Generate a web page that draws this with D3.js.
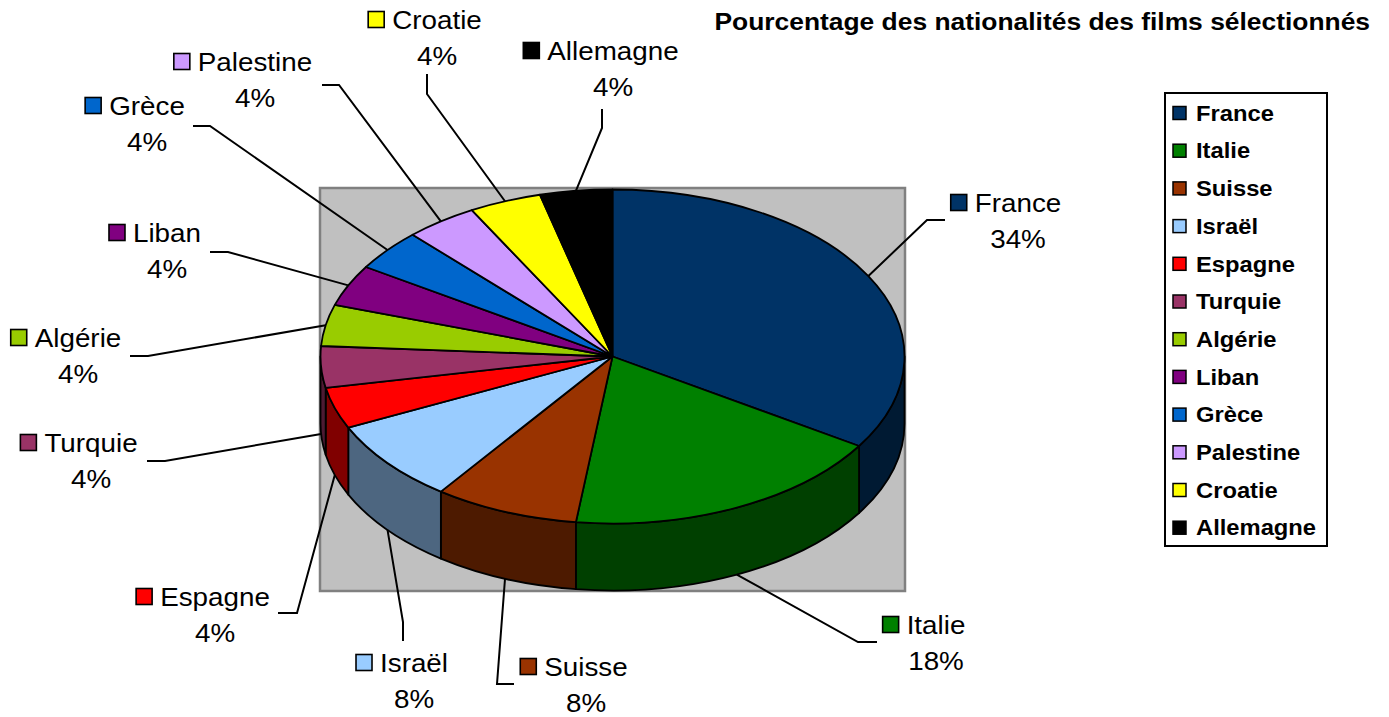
<!DOCTYPE html>
<html>
<head>
<meta charset="utf-8">
<script src="https://cdn.jsdelivr.net/npm/d3@7"></script>
<style>
  body { margin: 0; background: #fff; }
  text { font-family: "Liberation Sans", Arial, sans-serif; fill: #000; }
</style>
</head>
<body>
<svg id="chart" width="1389" height="717"></svg>
<script>
// Nationalités des films sélectionnés (pourcentages)
const countries = ["France", "Italie", "Suisse", "Israël", "Espagne", "Turquie",
                   "Algérie", "Liban", "Grèce", "Palestine", "Croatie", "Allemagne"];
const shares = [34, 18, 8, 8, 4, 4, 4, 4, 4, 4, 4, 4];
const colors = ["#003366", "#008000", "#993300", "#99CCFF", "#FF0000", "#993366",
                "#99CC00", "#800080", "#0066CC", "#CC99FF", "#FFFF00", "#000000"];
const chartTitle = "Pourcentage des nationalités des films sélectionnés";

// Data label placement: centre of the name line, then the leader's elbow and end
const labelCentres = [[1018, 203], [936, 625], [586, 667], [414, 663], [215, 597], [91, 443],
                      [78, 338], [167, 233], [147, 106], [255, 62], [437, 20], [613, 51]];
const leaderElbows = [[927, 220], [858, 642], [497, 684], [403, 622], [297, 613], [165, 461],
                      [148, 356], [228, 252], [210, 126], [339, 85], [427, 94], [602, 128]];
const leaderEnds   = [[945, 220], [877, 642], [514, 684], [403, 641], [278, 613], [147, 461],
                      [130, 356], [210, 252], [193, 126], [322, 85], [427, 74], [602, 109]];

const data = countries.map((c, i) => ({ name: c, value: shares[i], color: colors[i] }));

const svg = d3.select("#chart");

// Geometry of the tilted pie
const plot = { x: 320, y: 188, w: 585, h: 403 };
const cx = 612.5, cy = 356.5, rx = 292, ry = 167, depth = 67;

const pie = d3.pie().value(d => d.value).sort(null).startAngle(0).endAngle(2 * Math.PI);
const arcs = pie(data);

const pt = (a, dy = 0) => [cx + rx * Math.sin(a), cy - ry * Math.cos(a) + dy];

function stext(sel, x, y, str, opts) {
  const o = Object.assign({ size: 26, weight: "normal", anchor: "start", sx: 1.07 }, opts);
  return sel.append("text")
    .attr("transform", `translate(${x},${y}) scale(${o.sx},1)`)
    .attr("dy", "0.35em")
    .attr("text-anchor", o.anchor)
    .style("font-size", o.size + "px")
    .style("font-weight", o.weight)
    .text(str);
}

// Plot area
svg.append("rect")
  .attr("x", plot.x).attr("y", plot.y).attr("width", plot.w).attr("height", plot.h)
  .attr("fill", "#C0C0C0").attr("stroke", "#808080").attr("stroke-width", 2.5);

const shade = c => { const k = d3.rgb(c); return d3.rgb(k.r * 0.5, k.g * 0.5, k.b * 0.5).toString(); };

// Outer walls (front half only)
const wallG = svg.append("g");
arcs.forEach(a => {
  const s = Math.max(a.startAngle, Math.PI / 2);
  const e = Math.min(a.endAngle, 3 * Math.PI / 2);
  if (e <= s) return;
  const large = (e - s) > Math.PI ? 1 : 0;
  const p0 = pt(s), p1 = pt(e), q1 = pt(e, depth), q0 = pt(s, depth);
  const d = `M${p0}A${rx},${ry} 0 ${large} 1 ${p1}L${q1}A${rx},${ry} 0 ${large} 0 ${q0}Z`;
  wallG.append("path").attr("d", d)
    .attr("fill", shade(a.data.color))
    .attr("stroke", "#000").attr("stroke-width", 1.8).attr("stroke-linejoin", "round");
});

// Top faces
const topG = svg.append("g");
arcs.forEach(a => {
  const large = (a.endAngle - a.startAngle) > Math.PI ? 1 : 0;
  const p0 = pt(a.startAngle), p1 = pt(a.endAngle);
  const d = `M${cx},${cy}L${p0}A${rx},${ry} 0 ${large} 1 ${p1}Z`;
  topG.append("path").attr("d", d)
    .attr("fill", a.data.color)
    .attr("stroke", "#000").attr("stroke-width", 1.8).attr("stroke-linejoin", "round");
});

// Leader lines and data labels
const labG = svg.append("g");
arcs.forEach((a, i) => {
  const mid = (a.startAngle + a.endAngle) / 2;
  const anchor = pt(mid, Math.cos(mid) < 0 ? depth : 0);
  labG.append("polyline")
    .attr("points", [anchor, leaderElbows[i], leaderEnds[i]].map(p => p.join(",")).join(" "))
    .attr("fill", "none").attr("stroke", "#000").attr("stroke-width", 2);

  const [lx, ly] = labelCentres[i];
  const t = stext(labG, lx, ly, a.data.name, { anchor: "middle" });
  const w = t.node().getComputedTextLength() * 1.07;
  labG.append("rect")
    .attr("x", lx - w / 2 - 24).attr("y", ly - 8.5).attr("width", 16).attr("height", 16)
    .attr("fill", a.data.color).attr("stroke", "#000").attr("stroke-width", 1.6);
  stext(labG, lx, ly + 36, a.data.value + "%", { anchor: "middle" });
});

// Title
stext(svg, 1370, 22, chartTitle, { size: 24, weight: "bold", anchor: "end", sx: 1.1 });

// Legend
const leg = { x: 1165, y: 93, w: 162, h: 453, first: 113, step: 37.7 };
svg.append("rect")
  .attr("x", leg.x).attr("y", leg.y).attr("width", leg.w).attr("height", leg.h)
  .attr("fill", "#fff").attr("stroke", "#000").attr("stroke-width", 2);
data.forEach((d, i) => {
  const y = leg.first + i * leg.step;
  svg.append("rect")
    .attr("x", 1173).attr("y", y - 6.5).attr("width", 13).attr("height", 13)
    .attr("fill", d.color).attr("stroke", "#000").attr("stroke-width", 1.5);
  stext(svg, 1196, y, d.name, { size: 22, weight: "bold", sx: 1.08 });
});
</script>
</body>
</html>
